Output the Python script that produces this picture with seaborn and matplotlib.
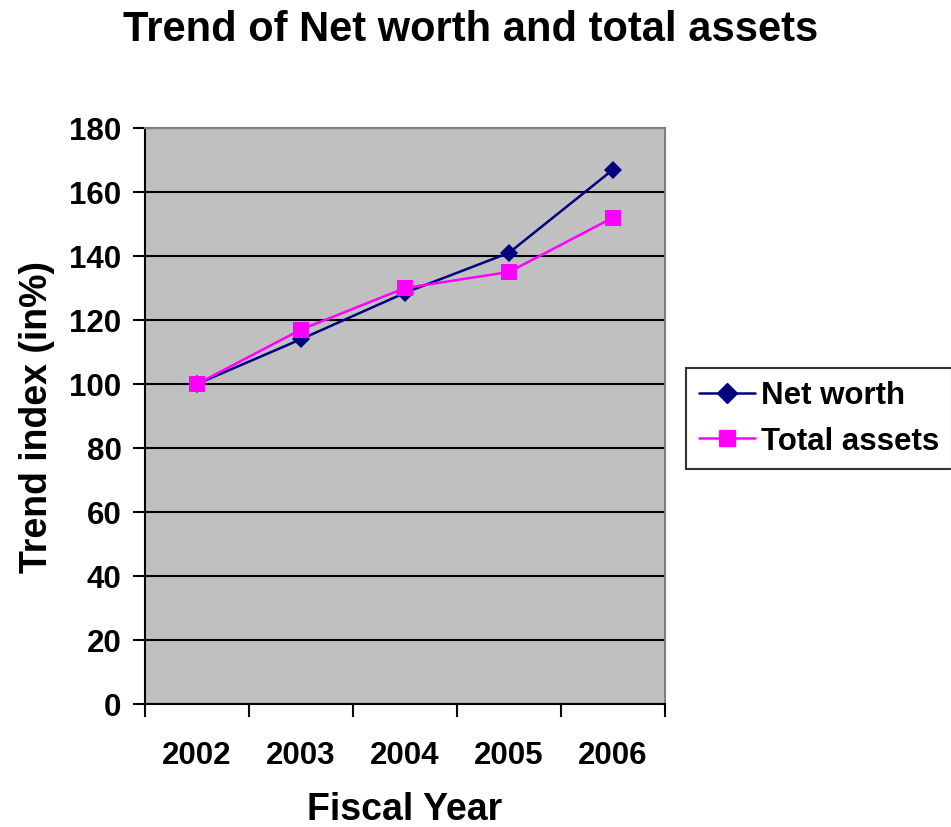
import matplotlib
matplotlib.use("Agg")
import matplotlib.pyplot as plt
import seaborn as sns
import pandas as pd
import numpy as np
from matplotlib.lines import Line2D

years = ["2002", "2003", "2004", "2005", "2006"]
net_worth = [100, 114, 128.5, 141, 167]
total_assets = [100, 117, 130, 135, 152]
yticks = [0, 20, 40, 60, 80, 100, 120, 140, 160, 180]

sns.set_style("white")
plt.rcParams['font.family'] = ['Liberation Sans', 'DejaVu Sans']
plt.rcParams['font.weight'] = 'bold'
plt.rcParams['text.color'] = 'black'
plt.rcParams['axes.labelcolor'] = 'black'
plt.rcParams['xtick.color'] = 'black'
plt.rcParams['ytick.color'] = 'black'
plt.rcParams['xtick.bottom'] = True
plt.rcParams['ytick.left'] = True

df = pd.DataFrame({
    "pos": list(range(len(years))) * 2,
    "value": net_worth + total_assets,
    "series": ["Net worth"] * len(years) + ["Total assets"] * len(years),
})

fig = plt.figure(figsize=(9.51, 8.28), dpi=100)
ax = fig.add_axes([145/951, 1-705/828, (665-145)/951, (705-129)/828])
ax.set_facecolor("#C0C0C0")

sns.lineplot(data=df, x="pos", y="value", hue="series", style="series",
             markers={"Net worth": "D", "Total assets": "s"}, dashes=False,
             palette={"Net worth": "#000080", "Total assets": "#FF00FF"},
             markersize=10, linewidth=1.8, markeredgewidth=0, ax=ax, legend=False)
for line in ax.lines:
    if line.get_marker() == "D":
        line.set_markersize(9.5)
    else:
        line.set_markersize(11)

ax.set_xlim(-0.5, len(years) - 0.5)
ax.set_ylim(0, 180)
ax.set_yticks(yticks)
ax.set_yticklabels([str(t) for t in yticks])
ax.yaxis.grid(True, color="black", linewidth=1.5)
ax.set_axisbelow(True)

ax.set_xticks(range(len(years)))
ax.set_xticklabels(years)
ax.set_xticks(np.arange(-0.5, len(years), 1.0), minor=True)
ax.tick_params(axis="x", which="major", bottom=True, length=0, pad=26, labelsize=22.5)
ax.tick_params(axis="x", which="minor", bottom=True, length=9, width=1.5, color="black", direction="out")
ax.tick_params(axis="y", which="major", left=True, length=9, width=1.5, color="black", direction="out", labelsize=22.5, pad=8)
for lab in ax.get_xticklabels() + ax.get_yticklabels():
    lab.set_fontweight("bold")

for s in ["left", "bottom"]:
    ax.spines[s].set_color("black")
    ax.spines[s].set_linewidth(1.5)
for s in ["top", "right"]:
    ax.spines[s].set_color("#808080")
    ax.spines[s].set_linewidth(1.5)

ax.set_xlabel("Fiscal Year", fontsize=27, fontweight="bold", labelpad=15)
ax.set_ylabel("Trend index (in%)", fontsize=27, fontweight="bold", labelpad=10)

fig.suptitle("Trend of Net worth and total assets", fontsize=30, fontweight="bold",
             x=0.495, y=0.988)

handles = [
    Line2D([], [], color="#000080", marker="D", markersize=10, linewidth=1.8),
    Line2D([], [], color="#FF00FF", marker="s", markersize=11, linewidth=1.8),
]
leg = fig.legend(handles, ["Net worth", "Total assets"], loc="upper left",
                 bbox_to_anchor=(686/951, 1-369/828), frameon=True,
                 prop={"weight": "bold", "size": 22.5}, fancybox=False,
                 borderpad=0.4, handlelength=1.8, handletextpad=0.2, labelspacing=0.5,
                 borderaxespad=0)
leg.get_frame().set_edgecolor("black")
leg.get_frame().set_linewidth(1.5)

fig.savefig("out.png", dpi=100)
